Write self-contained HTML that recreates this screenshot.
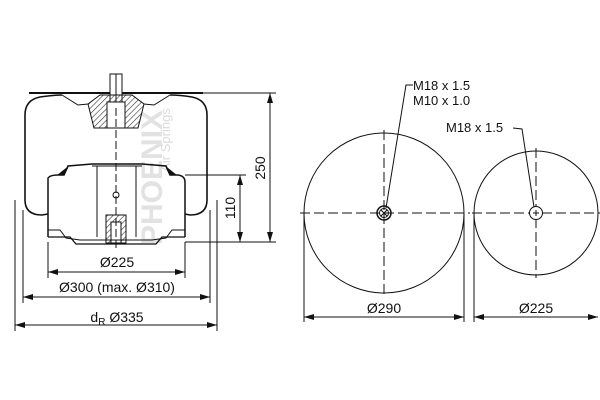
<!DOCTYPE html>
<html><head><meta charset="utf-8"><style>
html,body{margin:0;padding:0;background:#fff;}
svg{display:block;font-family:"Liberation Sans",sans-serif;}
</style></head><body>
<svg width="600" height="400" viewBox="0 0 600 400" xmlns="http://www.w3.org/2000/svg">
<defs>
<marker id="a" viewBox="0 0 10 6" refX="10" refY="3" markerWidth="10" markerHeight="6" orient="auto-start-reverse" markerUnits="userSpaceOnUse"><path d="M0,0 L10,3 L0,6 z" fill="#111"/></marker>
<pattern id="h" width="4" height="4" patternUnits="userSpaceOnUse" patternTransform="rotate(45)"><line x1="0" y1="0" x2="0" y2="4" stroke="#333" stroke-width="1.2"/></pattern>
</defs>
<g stroke="#111" fill="none" stroke-width="1">
<text x="0" y="0" transform="translate(162,245) rotate(-90)" font-size="30" font-weight="bold" fill="#e2e2e2" stroke="none">PHOENIX</text>
<text x="0" y="0" transform="translate(170,140) rotate(-90)" font-size="13" fill="#dadada" stroke="none" text-anchor="middle">Air Springs</text>
<line x1="29" y1="93" x2="203" y2="93" stroke-width="2"/>
<rect x="110" y="74" width="12" height="34" fill="#fff"/>
<line x1="116" y1="74" x2="116" y2="108"/>
<path d="M62,95 Q55,95 40,97 Q25,100 25,115 L25,200 Q25,215 42,215 L48,214" stroke-width="1.6"/>
<path d="M170,95 Q180,95 192,97 Q207,100 207,115 L207,200 Q207,215 190,215 L185,214" stroke-width="1.6"/>
<path d="M88,104 L100,95 L132,95 L144,104 L138,128 L94,128 Z" fill="url(#h)"/>
<rect x="107" y="102" width="18" height="26" fill="#fff"/>
<path d="M62,95 L78,105 L88,104 M170,95 L154,105 L144,104"/>
<path d="M48,237 L48,178 Q50,175 58,175 L64,175 L68,166 L92,164 L142,164 L166,166 L170,175 L178,175 Q185,176 185,182 L185,237" stroke-width="1.5"/>
<path d="M58,175 L64,175 L68,167 Z M170,175 L176,175 L166,167 Z" fill="#111"/>
<line x1="92" y1="166" x2="142" y2="166"/>
<line x1="97" y1="166" x2="97" y2="237"/>
<line x1="136" y1="166" x2="136" y2="237"/>
<circle cx="116" cy="195" r="3"/>
<rect x="106" y="215" width="20" height="28" fill="url(#h)"/>
<rect x="111" y="222" width="10" height="21" fill="#fff"/>
<path d="M48,230 L60,230 L66,238 L80,240 L152,240 L166,238 L172,230 L185,230" />
<path d="M48,237 L70,237 L76,244 L156,244 L162,237 L185,237" stroke-width="1.3"/>
<line x1="116" y1="108" x2="116" y2="250" stroke-dasharray="8,3"/>
<line x1="203" y1="93" x2="276" y2="93"/>
<line x1="185" y1="175" x2="246" y2="175"/>
<line x1="185" y1="242" x2="276" y2="242"/>
<line x1="48" y1="242" x2="48" y2="278"/>
<line x1="185" y1="242" x2="185" y2="278"/>
<line x1="23" y1="210" x2="23" y2="303"/>
<line x1="210" y1="210" x2="210" y2="303"/>
<line x1="15" y1="200" x2="15" y2="331"/>
<line x1="217" y1="200" x2="217" y2="331"/>
<line x1="270" y1="93" x2="270" y2="242" marker-start="url(#a)" marker-end="url(#a)"/>
<line x1="240" y1="175" x2="240" y2="242" marker-start="url(#a)" marker-end="url(#a)"/>
<line x1="48" y1="272" x2="185" y2="272" marker-start="url(#a)" marker-end="url(#a)"/>
<line x1="23" y1="297" x2="210" y2="297" marker-start="url(#a)" marker-end="url(#a)"/>
<line x1="15" y1="325" x2="217" y2="325" marker-start="url(#a)" marker-end="url(#a)"/>
<circle cx="384" cy="213" r="80"/>
<line x1="300" y1="213" x2="470" y2="213" stroke-dasharray="10,4"/>
<line x1="384" y1="130" x2="384" y2="296" stroke-dasharray="10,4"/>
<circle cx="384" cy="213" r="7" stroke-width="1.5"/>
<circle cx="384" cy="213" r="4.5"/>
<path d="M381,210 L387,216 M387,210 L381,216"/>
<path d="M413,85 L406,85 L386,208"/>
<circle cx="536" cy="213" r="62"/>
<line x1="472" y1="213" x2="600" y2="213" stroke-dasharray="10,4"/>
<line x1="536" y1="148" x2="536" y2="278" stroke-dasharray="10,4"/>
<circle cx="536" cy="213" r="6.5" fill="#fff"/>
<path d="M533,213 L539,213 M536,210 L536,216"/>
<path d="M513,128 L522,129 L534,207"/>
<line x1="304" y1="213" x2="304" y2="322"/>
<line x1="464" y1="213" x2="464" y2="322"/>
<line x1="474" y1="213" x2="474" y2="322"/>
<line x1="304" y1="317" x2="464" y2="317" marker-start="url(#a)" marker-end="url(#a)"/>
<line x1="474" y1="317" x2="598" y2="317" marker-start="url(#a)" marker-end="url(#a)"/>
</g>
<g fill="#111" font-size="14">
<text x="117" y="267" text-anchor="middle">Ø225</text>
<text x="117" y="292" text-anchor="middle">Ø300 (max. Ø310)</text>
<text x="117" y="322" text-anchor="middle">d<tspan font-size="10" dy="3">R</tspan><tspan dy="-3">  Ø335</tspan></text>
<text transform="translate(265,168) rotate(-90)" text-anchor="middle">250</text>
<text transform="translate(235,208) rotate(-90)" text-anchor="middle">110</text>
<text x="384" y="313" text-anchor="middle">Ø290</text>
<text x="536" y="313" text-anchor="middle">Ø225</text>
<text x="413" y="90" font-size="13">M18 x 1.5</text>
<text x="413" y="105" font-size="13">M10 x 1.0</text>
<text x="446" y="132" font-size="13">M18 x 1.5</text>
</g>
</svg>
</body></html>
